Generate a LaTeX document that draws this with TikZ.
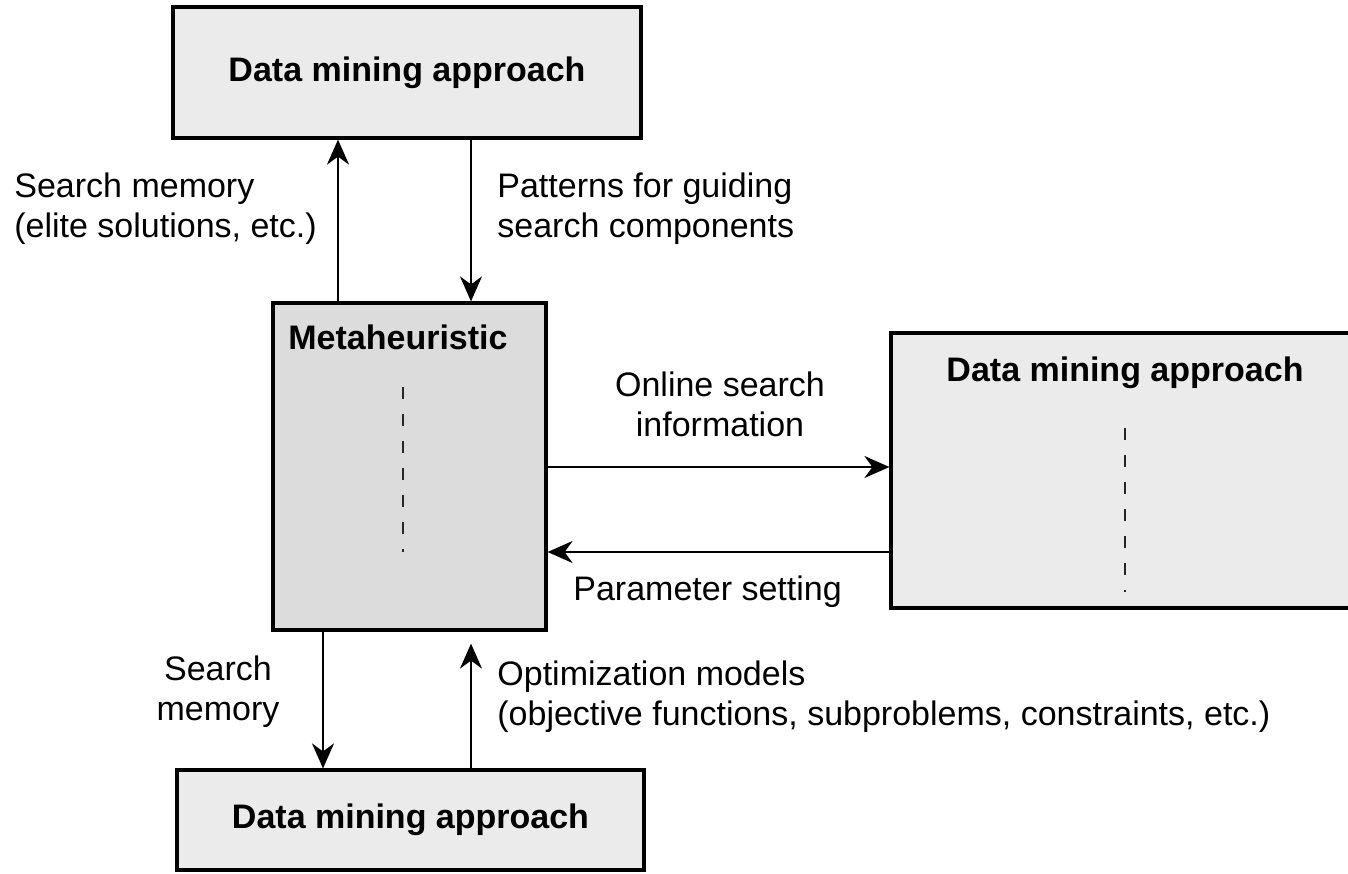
\documentclass[tikz,border=0pt]{standalone}
\usepackage{fontspec}
\setmainfont{Liberation Sans}
\usetikzlibrary{arrows.meta}
\definecolor{boxlight}{HTML}{EBEBEB}
\definecolor{boxdark}{HTML}{DCDCDC}
\begin{document}
\begin{tikzpicture}[x=0.5pt,y=-0.5pt,
  box/.style={draw=black, line width=1.6pt, inner sep=0pt, font=\fontsize{17}{20}\selectfont\bfseries},
  lbl/.style={inner sep=0pt, font=\fontsize{17}{20}\selectfont},
  ttl/.style={inner sep=0pt, font=\fontsize{17}{20}\selectfont\bfseries},
  arr/.style={line width=1pt, -{Stealth[length=12.5pt,width=11pt,inset=4pt]}},
  dsh/.style={line width=1.2pt, draw=black!85, dash pattern=on 6pt off 7.5pt}]
\useasboundingbox (0,0) rectangle (1348,873);

% boxes
\node[box, fill=boxlight, minimum width=234pt, minimum height=65.5pt] (top) at (407,72.5) {Data mining approach};
\node[box, fill=boxdark, minimum width=136.5pt, minimum height=163.5pt] (meta) at (409.5,466.5) {};
\node[box, fill=boxlight, minimum width=230.5pt, minimum height=137.5pt] (right) at (1121.5,470.5) {};
\node[box, fill=boxlight, minimum width=233.5pt, minimum height=50pt] (bottom) at (410.5,820) {Data mining approach};

% titles inside boxes
\node[ttl, anchor=base west] (metattl) at (288,349) {Metaheuristic};
\node[ttl, anchor=base] (rightttl) at (1125,381) {Data mining approach};

% dashed lines inside boxes
\draw[dsh] (403,387) -- (403,552);
\draw[dsh] (1125,428) -- (1125,592);

% connectors
\draw[arr] (meta.north -| 338,0) -- (top.south -| 338,0);
\draw[arr] (top.south -| 471,0) -- (meta.north -| 471,0);
\draw[arr] (meta.east |- 0,467) -- (right.west |- 0,467);
\draw[arr] (right.west |- 0,552) -- (meta.east |- 0,552);
\draw[arr] (meta.south -| 323,0) -- (bottom.north -| 323,0);
\draw[arr, shorten >=6pt] (bottom.north -| 471,0) -- (meta.south -| 471,0);

% labels (base anchor = baseline of last line)
\node[lbl, anchor=base west, align=left] (l1) at (14,237) {Search memory\\(elite solutions, etc.)};
\node[lbl, anchor=base west, align=left] (l2) at (497,237) {Patterns for guiding\\search components};
\node[lbl, anchor=base, align=center] (l3) at (720,436) {Online search\\information};
\node[lbl, anchor=base west] (l4) at (573,600) {Parameter setting};
\node[lbl, anchor=base, align=center] (l5) at (218,720) {Search\\memory};
\node[lbl, anchor=base west, align=left] (l6) at (497,725) {Optimization models\\(objective functions, subproblems, constraints, etc.)};
\end{tikzpicture}
\end{document}
